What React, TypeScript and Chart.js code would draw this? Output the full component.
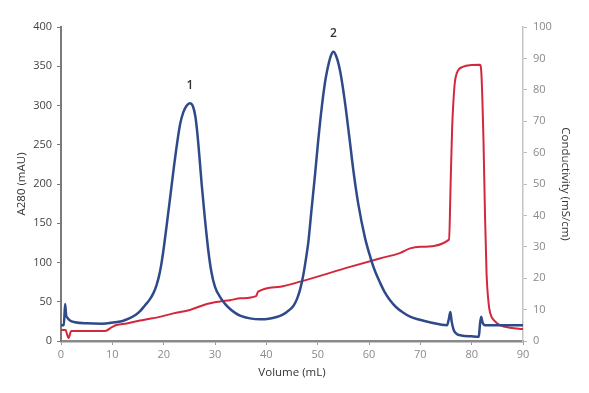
import React, { useEffect, useRef } from "react";
import { Chart, registerables } from "chart.js";

Chart.register(...registerables);

// A280 trace (left axis, mAU)
const a280Volume = [
  0, 0.55, 0.8, 1.0, 1.2, 1.75, 2.7, 5, 8, 10.5, 12, 13.4, 14.5, 15.4, 16.3, 17.3, 18, 18.6, 19.1,
  19.5, 19.9, 20.6, 21.4, 22.2, 23.2, 23.8, 24.5, 25.1, 25.7, 26.2, 26.6, 27, 27.4, 28, 28.7, 29.3,
  30, 31, 32, 33, 34, 35, 36.8, 38.8, 40.5, 42, 43, 44, 45.3, 46, 46.6, 47.2, 47.7, 48.2, 48.8,
  49.5, 50.1, 50.8, 51.4, 51.8, 52.5, 53.05, 53.6, 54.4, 55.3, 56.2, 57, 57.9, 59.2, 60.3, 61,
  62.1, 63, 64.1, 65.3, 66.7, 68, 69.9, 72, 75.2, 75.55, 75.85, 76.1, 76.5, 77.1, 78, 80, 81.4,
  81.6, 81.85, 82.1, 82.6, 90,
];
const a280Values = [
  20, 20, 47, 33, 30, 26, 24, 22.5, 22, 24, 25.5, 29, 33, 38, 45, 53, 61, 71, 83,
  96, 113, 148, 190, 232, 276, 291, 300, 303, 299, 285, 262, 232, 200, 158, 115, 88,
  69, 56, 47, 40.5, 35.5, 32, 28.8, 27.6, 28.3, 30.5, 33, 37, 45, 54, 66, 84, 104, 127, 167,
  213, 255, 298, 328, 343, 362, 368.5, 363, 343, 305, 258, 215, 175, 132, 106, 92,
  75, 63, 52, 43, 36, 31, 27, 23.5, 20, 28, 37, 25, 14, 9, 7, 6, 5.5,
  20, 31, 24, 20, 20,
];

// Conductivity trace (right axis, mS/cm)
const condVolume = [
  0, 0.9, 1.2, 1.5, 1.8, 2.0, 8.6, 10, 10.8, 12.8, 15.4, 16.7, 19, 21.9, 25.1, 28.4, 31, 32.9, 35,
  38, 38.4, 42.7, 46.6, 56.3, 62.1, 66, 68, 70, 75.6, 75.9, 76.2, 76.4, 76.7, 77.1, 78.4, 80, 81.6,
  81.9, 82.3, 82.6, 82.9, 83.3, 83.6, 84.5, 85.5, 87.5, 90,
];
const condValues = [
  3.5, 3.5, 2, 0.9, 2.5, 3.2, 3.2, 4.5, 5.1, 5.6, 6.5, 6.9, 7.6, 8.8, 9.9, 11.8, 12.6, 13.0, 13.6,
  14.3, 15.7, 17.3, 18.9, 23.6, 26.3, 28, 29.5, 30, 32.3, 50, 68, 75, 82, 85.3, 87.4, 87.9, 88,
  85, 64, 40, 21.6, 12, 8.9, 6.3, 5.1, 4.2, 3.8,
];

// Peak annotations
const peakLabels = ["1", "2"];
const peakLabelX = [25.1, 53.05];
const peakLabelY = [326, 392];

const FONT = "'Open Sans', 'Noto Sans', sans-serif";

export default function App() {
  const ref = useRef<HTMLCanvasElement | null>(null);

  useEffect(() => {
    if (!ref.current) return;
    const peakPlugin = {
      id: "peakLabels",
      afterDatasetsDraw(chart: any) {
        const ctx = chart.ctx;
        const xs = chart.scales.x;
        const ys = chart.scales.y;
        ctx.save();
        ctx.font = `600 12px ${FONT}`;
        ctx.fillStyle = "#333333";
        ctx.textAlign = "center";
        ctx.textBaseline = "middle";
        peakLabels.forEach((t, i) => {
          ctx.fillText(t, xs.getPixelForValue(peakLabelX[i]), ys.getPixelForValue(peakLabelY[i]));
        });
        ctx.restore();
      },
    };

    const chart = new Chart(ref.current, {
      type: "line",
      data: {
        datasets: [
          {
            label: "A280",
            data: a280Volume.map((x, i) => ({ x, y: a280Values[i] })),
            borderColor: "#2f4a88",
            borderWidth: 2.5,
            pointRadius: 0,
            cubicInterpolationMode: "monotone",
            yAxisID: "y",
          },
          {
            label: "Conductivity",
            data: condVolume.map((x, i) => ({ x, y: condValues[i] })),
            borderColor: "#d3283c",
            borderWidth: 2,
            pointRadius: 0,
            cubicInterpolationMode: "monotone",
            yAxisID: "y1",
          },
        ],
      },
      options: {
        animation: false,
        responsive: true,
        maintainAspectRatio: false,
        layout: { padding: { top: 27, right: 0, left: 0, bottom: 0 } },
        plugins: { legend: { display: false }, tooltip: { enabled: false } },
        scales: {
          x: {
            type: "linear",
            min: 0,
            max: 90,
            ticks: { stepSize: 10, color: "#8a8a8a", font: { family: FONT, size: 11 }, padding: 3 },
            grid: { display: true, drawOnChartArea: false, drawTicks: true, tickLength: 4, color: "#999999" },
            border: { display: true, color: "#8a8a8a", width: 2.5 },
            title: {
              display: true,
              text: "Volume (mL)",
              color: "#333333",
              font: { family: FONT, size: 11.5 },
              padding: { top: 2, bottom: 13 },
            },
            afterFit: (s: any) => {
              s.height = 52;
            },
          },
          y: {
            position: "left",
            min: 0,
            max: 400,
            ticks: { stepSize: 50, color: "#444444", font: { family: FONT, size: 11 }, padding: 5 },
            grid: { display: true, drawOnChartArea: false, drawTicks: true, tickLength: 4, color: "#777777" },
            border: { display: true, color: "#7a7a7a", width: 2 },
            title: {
              display: true,
              text: "A280 (mAU)",
              color: "#333333",
              font: { family: FONT, size: 11.5 },
              padding: { top: 15, bottom: 0 },
            },
            afterFit: (s: any) => {
              s.width = 61;
            },
          },
          y1: {
            position: "right",
            min: 0,
            max: 100,
            ticks: { stepSize: 10, color: "#8a8a8a", font: { family: FONT, size: 11 }, padding: 6 },
            grid: { display: true, drawOnChartArea: false, drawTicks: true, tickLength: 4, color: "#bbbbbb" },
            border: { display: true, color: "#c4c4c4", width: 1.5 },
            title: {
              display: true,
              text: "Conductivity (mS/cm)",
              color: "#333333",
              font: { family: FONT, size: 11.5 },
              padding: { top: 17, bottom: 0 },
            },
            afterFit: (s: any) => {
              s.width = 66;
            },
          },
        },
      },
      plugins: [peakPlugin],
    });
    return () => chart.destroy();
  }, []);

  return (
    <div style={{ position: "absolute", left: 0, top: 0, width: 589, height: 393, background: "#ffffff" }}>
      <canvas ref={ref} />
    </div>
  );
}
